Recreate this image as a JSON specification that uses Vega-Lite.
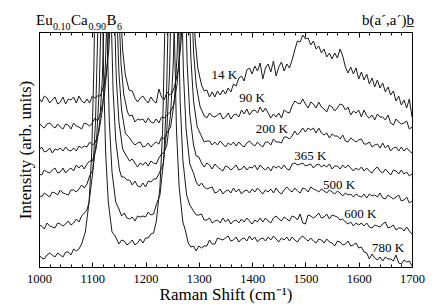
{
"$schema": "https://vega.github.io/schema/vega-lite/v6.json",
"width": 373, "height": 235,
"autosize": "none",
"padding": {"left": 39, "top": 32, "right": 24, "bottom": 41},
"background": "white",
"config": {"font": "Liberation Serif", "view": {"stroke": "black", "strokeWidth": 1},
"axis": {"labelFont": "Liberation Serif", "titleFont": "Liberation Serif"},
"text": {"font": "Liberation Serif"}},
"datasets": {
"spectra": [
{"T":14,"x":1000,"y":169},{"T":14,"x":1005,"y":165},{"T":14,"x":1010,"y":171},{"T":14,"x":1015,"y":169},{"T":14,"x":1020,"y":164},{"T":14,"x":1025,"y":167},{"T":14,"x":1030,"y":170},{"T":14,"x":1035,"y":163},{"T":14,"x":1040,"y":165},{"T":14,"x":1045,"y":170},{"T":14,"x":1050,"y":163},{"T":14,"x":1055,"y":168},{"T":14,"x":1060,"y":167},{"T":14,"x":1065,"y":170},{"T":14,"x":1070,"y":164},{"T":14,"x":1075,"y":171},{"T":14,"x":1080,"y":166},{"T":14,"x":1085,"y":164},{"T":14,"x":1090,"y":168},{"T":14,"x":1095,"y":164},{"T":14,"x":1100,"y":171},{"T":14,"x":1105,"y":169},{"T":14,"x":1110,"y":171},{"T":14,"x":1115,"y":171},
{"T":14,"x":1119,"y":177},{"T":14,"x":1126,"y":192},{"T":14,"x":1131,"y":217},{"T":14,"x":1135,"y":259},{"T":14,"x":1138,"y":315},{"T":14,"x":1141,"y":397},{"T":14,"x":1144,"y":700},{"T":14,"x":1147,"y":397},{"T":14,"x":1150,"y":315},{"T":14,"x":1153,"y":259},{"T":14,"x":1157,"y":217},{"T":14,"x":1162,"y":192},{"T":14,"x":1169,"y":177},
{"T":14,"x":1175,"y":176},{"T":14,"x":1180,"y":169},{"T":14,"x":1185,"y":165},{"T":14,"x":1190,"y":169},{"T":14,"x":1195,"y":171},{"T":14,"x":1200,"y":167},{"T":14,"x":1205,"y":164},{"T":14,"x":1210,"y":170},{"T":14,"x":1215,"y":166},{"T":14,"x":1220,"y":164},{"T":14,"x":1225,"y":178},{"T":14,"x":1230,"y":170},{"T":14,"x":1235,"y":167},{"T":14,"x":1240,"y":175},{"T":14,"x":1245,"y":172},{"T":14,"x":1250,"y":174},
{"T":14,"x":1255,"y":182},{"T":14,"x":1262,"y":199},{"T":14,"x":1267,"y":228},{"T":14,"x":1271,"y":276},{"T":14,"x":1274,"y":340},{"T":14,"x":1277,"y":435},{"T":14,"x":1280,"y":700},{"T":14,"x":1283,"y":435},{"T":14,"x":1286,"y":340},{"T":14,"x":1289,"y":276},{"T":14,"x":1293,"y":228},{"T":14,"x":1298,"y":199},{"T":14,"x":1305,"y":182},
{"T":14,"x":1310,"y":176},{"T":14,"x":1315,"y":177},{"T":14,"x":1320,"y":170},{"T":14,"x":1325,"y":175},{"T":14,"x":1330,"y":170},{"T":14,"x":1335,"y":176},{"T":14,"x":1340,"y":172},{"T":14,"x":1345,"y":177},{"T":14,"x":1350,"y":173},{"T":14,"x":1355,"y":179},{"T":14,"x":1360,"y":175},{"T":14,"x":1365,"y":183},{"T":14,"x":1370,"y":181},{"T":14,"x":1375,"y":189},{"T":14,"x":1380,"y":191},{"T":14,"x":1385,"y":186},{"T":14,"x":1390,"y":197},{"T":14,"x":1395,"y":199},{"T":14,"x":1400,"y":193},{"T":14,"x":1405,"y":201},{"T":14,"x":1410,"y":196},{"T":14,"x":1415,"y":204},{"T":14,"x":1420,"y":188},{"T":14,"x":1425,"y":199},{"T":14,"x":1430,"y":203},{"T":14,"x":1435,"y":195},{"T":14,"x":1440,"y":206},{"T":14,"x":1445,"y":191},{"T":14,"x":1450,"y":200},{"T":14,"x":1455,"y":205},{"T":14,"x":1460,"y":196},{"T":14,"x":1465,"y":203},{"T":14,"x":1470,"y":199},{"T":14,"x":1475,"y":207},{"T":14,"x":1480,"y":217},{"T":14,"x":1485,"y":226},{"T":14,"x":1490,"y":225},{"T":14,"x":1495,"y":232},{"T":14,"x":1500,"y":228},{"T":14,"x":1505,"y":229},{"T":14,"x":1510,"y":222},{"T":14,"x":1515,"y":226},{"T":14,"x":1520,"y":218},{"T":14,"x":1525,"y":221},{"T":14,"x":1530,"y":214},{"T":14,"x":1535,"y":218},{"T":14,"x":1540,"y":210},{"T":14,"x":1545,"y":214},{"T":14,"x":1550,"y":208},{"T":14,"x":1555,"y":214},{"T":14,"x":1560,"y":209},{"T":14,"x":1565,"y":218},{"T":14,"x":1570,"y":211},{"T":14,"x":1575,"y":200},{"T":14,"x":1580,"y":194},{"T":14,"x":1585,"y":200},{"T":14,"x":1590,"y":193},{"T":14,"x":1595,"y":199},{"T":14,"x":1600,"y":188},{"T":14,"x":1605,"y":195},{"T":14,"x":1610,"y":187},{"T":14,"x":1615,"y":193},{"T":14,"x":1620,"y":183},{"T":14,"x":1625,"y":189},{"T":14,"x":1630,"y":180},{"T":14,"x":1635,"y":187},{"T":14,"x":1640,"y":179},{"T":14,"x":1645,"y":184},{"T":14,"x":1650,"y":175},{"T":14,"x":1655,"y":180},{"T":14,"x":1660,"y":172},{"T":14,"x":1665,"y":176},{"T":14,"x":1670,"y":166},{"T":14,"x":1675,"y":171},{"T":14,"x":1680,"y":162},{"T":14,"x":1685,"y":167},{"T":14,"x":1690,"y":159},{"T":14,"x":1695,"y":168},{"T":14,"x":1700,"y":150},
{"T":90,"x":1000,"y":144},{"T":90,"x":1005,"y":141},{"T":90,"x":1010,"y":139},{"T":90,"x":1015,"y":143},{"T":90,"x":1020,"y":144},{"T":90,"x":1025,"y":141},{"T":90,"x":1030,"y":139},{"T":90,"x":1035,"y":143},{"T":90,"x":1040,"y":140},{"T":90,"x":1045,"y":138},{"T":90,"x":1050,"y":143},{"T":90,"x":1055,"y":142},{"T":90,"x":1060,"y":138},{"T":90,"x":1065,"y":144},{"T":90,"x":1070,"y":141},{"T":90,"x":1075,"y":140},{"T":90,"x":1080,"y":138},{"T":90,"x":1085,"y":144},{"T":90,"x":1090,"y":143},{"T":90,"x":1095,"y":141},{"T":90,"x":1100,"y":144},{"T":90,"x":1105,"y":149},{"T":90,"x":1110,"y":146},
{"T":90,"x":1116,"y":155},{"T":90,"x":1123,"y":173},{"T":90,"x":1128,"y":203},{"T":90,"x":1132,"y":254},{"T":90,"x":1135,"y":320},{"T":90,"x":1138,"y":419},{"T":90,"x":1141,"y":700},{"T":90,"x":1144,"y":419},{"T":90,"x":1147,"y":320},{"T":90,"x":1150,"y":254},{"T":90,"x":1154,"y":203},{"T":90,"x":1159,"y":173},{"T":90,"x":1166,"y":155},
{"T":90,"x":1170,"y":151},{"T":90,"x":1175,"y":152},{"T":90,"x":1180,"y":145},{"T":90,"x":1185,"y":148},{"T":90,"x":1190,"y":147},{"T":90,"x":1195,"y":148},{"T":90,"x":1200,"y":144},{"T":90,"x":1205,"y":149},{"T":90,"x":1210,"y":145},{"T":90,"x":1215,"y":144},{"T":90,"x":1220,"y":148},{"T":90,"x":1225,"y":144},{"T":90,"x":1230,"y":150},{"T":90,"x":1235,"y":149},{"T":90,"x":1240,"y":152},{"T":90,"x":1245,"y":154},
{"T":90,"x":1252,"y":161},{"T":90,"x":1259,"y":182},{"T":90,"x":1264,"y":216},{"T":90,"x":1268,"y":275},{"T":90,"x":1271,"y":351},{"T":90,"x":1274,"y":464},{"T":90,"x":1277,"y":700},{"T":90,"x":1280,"y":464},{"T":90,"x":1283,"y":351},{"T":90,"x":1286,"y":275},{"T":90,"x":1290,"y":216},{"T":90,"x":1295,"y":182},{"T":90,"x":1302,"y":161},
{"T":90,"x":1310,"y":151},{"T":90,"x":1315,"y":149},{"T":90,"x":1320,"y":154},{"T":90,"x":1325,"y":151},{"T":90,"x":1330,"y":150},{"T":90,"x":1335,"y":152},{"T":90,"x":1340,"y":154},{"T":90,"x":1345,"y":148},{"T":90,"x":1350,"y":150},{"T":90,"x":1355,"y":154},{"T":90,"x":1360,"y":148},{"T":90,"x":1365,"y":152},{"T":90,"x":1370,"y":153},{"T":90,"x":1375,"y":150},{"T":90,"x":1380,"y":157},{"T":90,"x":1385,"y":153},{"T":90,"x":1390,"y":158},{"T":90,"x":1395,"y":152},{"T":90,"x":1400,"y":156},{"T":90,"x":1405,"y":157},{"T":90,"x":1410,"y":154},{"T":90,"x":1415,"y":160},{"T":90,"x":1420,"y":155},{"T":90,"x":1425,"y":159},{"T":90,"x":1430,"y":154},{"T":90,"x":1435,"y":149},{"T":90,"x":1440,"y":153},{"T":90,"x":1445,"y":150},{"T":90,"x":1450,"y":154},{"T":90,"x":1455,"y":149},{"T":90,"x":1460,"y":157},{"T":90,"x":1465,"y":155},{"T":90,"x":1470,"y":154},{"T":90,"x":1475,"y":161},{"T":90,"x":1480,"y":166},{"T":90,"x":1485,"y":164},{"T":90,"x":1490,"y":163},{"T":90,"x":1495,"y":168},{"T":90,"x":1500,"y":163},{"T":90,"x":1505,"y":159},{"T":90,"x":1510,"y":165},{"T":90,"x":1515,"y":163},{"T":90,"x":1520,"y":159},{"T":90,"x":1525,"y":165},{"T":90,"x":1530,"y":160},{"T":90,"x":1535,"y":158},{"T":90,"x":1540,"y":155},{"T":90,"x":1545,"y":162},{"T":90,"x":1550,"y":160},{"T":90,"x":1555,"y":156},{"T":90,"x":1560,"y":159},{"T":90,"x":1565,"y":163},{"T":90,"x":1570,"y":162},{"T":90,"x":1575,"y":157},{"T":90,"x":1580,"y":160},{"T":90,"x":1585,"y":152},{"T":90,"x":1590,"y":156},{"T":90,"x":1595,"y":154},{"T":90,"x":1600,"y":157},{"T":90,"x":1605,"y":150},{"T":90,"x":1610,"y":157},{"T":90,"x":1615,"y":151},{"T":90,"x":1620,"y":149},{"T":90,"x":1625,"y":152},{"T":90,"x":1630,"y":147},{"T":90,"x":1635,"y":153},{"T":90,"x":1640,"y":150},{"T":90,"x":1645,"y":150},{"T":90,"x":1650,"y":147},{"T":90,"x":1655,"y":152},{"T":90,"x":1660,"y":144},{"T":90,"x":1665,"y":142},{"T":90,"x":1670,"y":148},{"T":90,"x":1675,"y":145},{"T":90,"x":1680,"y":143},{"T":90,"x":1685,"y":144},{"T":90,"x":1690,"y":146},{"T":90,"x":1695,"y":138},{"T":90,"x":1700,"y":140},
{"T":200,"x":1000,"y":117},{"T":200,"x":1005,"y":120},{"T":200,"x":1010,"y":115},{"T":200,"x":1015,"y":116},{"T":200,"x":1020,"y":119},{"T":200,"x":1025,"y":114},{"T":200,"x":1030,"y":118},{"T":200,"x":1035,"y":117},{"T":200,"x":1040,"y":119},{"T":200,"x":1045,"y":116},{"T":200,"x":1050,"y":120},{"T":200,"x":1055,"y":117},{"T":200,"x":1060,"y":116},{"T":200,"x":1065,"y":119},{"T":200,"x":1070,"y":116},{"T":200,"x":1075,"y":121},{"T":200,"x":1080,"y":119},{"T":200,"x":1085,"y":121},{"T":200,"x":1090,"y":120},{"T":200,"x":1095,"y":125},{"T":200,"x":1100,"y":122},{"T":200,"x":1105,"y":124},
{"T":200,"x":1112,"y":134},{"T":200,"x":1119,"y":157},{"T":200,"x":1124,"y":194},{"T":200,"x":1128,"y":258},{"T":200,"x":1131,"y":340},{"T":200,"x":1134,"y":464},{"T":200,"x":1137,"y":700},{"T":200,"x":1140,"y":464},{"T":200,"x":1143,"y":340},{"T":200,"x":1146,"y":258},{"T":200,"x":1150,"y":194},{"T":200,"x":1155,"y":157},{"T":200,"x":1162,"y":134},
{"T":200,"x":1170,"y":129},{"T":200,"x":1175,"y":125},{"T":200,"x":1180,"y":122},{"T":200,"x":1185,"y":124},{"T":200,"x":1190,"y":125},{"T":200,"x":1195,"y":120},{"T":200,"x":1200,"y":121},{"T":200,"x":1205,"y":124},{"T":200,"x":1210,"y":120},{"T":200,"x":1215,"y":123},{"T":200,"x":1220,"y":125},{"T":200,"x":1225,"y":123},{"T":200,"x":1230,"y":130},{"T":200,"x":1235,"y":128},{"T":200,"x":1240,"y":134},
{"T":200,"x":1247,"y":140},{"T":200,"x":1254,"y":166},{"T":200,"x":1259,"y":209},{"T":200,"x":1263,"y":282},{"T":200,"x":1266,"y":377},{"T":200,"x":1269,"y":519},{"T":200,"x":1272,"y":700},{"T":200,"x":1275,"y":519},{"T":200,"x":1278,"y":377},{"T":200,"x":1281,"y":282},{"T":200,"x":1285,"y":209},{"T":200,"x":1290,"y":166},{"T":200,"x":1297,"y":140},
{"T":200,"x":1303,"y":133},{"T":200,"x":1310,"y":125},{"T":200,"x":1315,"y":126},{"T":200,"x":1320,"y":126},{"T":200,"x":1325,"y":122},{"T":200,"x":1330,"y":125},{"T":200,"x":1335,"y":122},{"T":200,"x":1340,"y":126},{"T":200,"x":1345,"y":123},{"T":200,"x":1350,"y":120},{"T":200,"x":1355,"y":124},{"T":200,"x":1360,"y":122},{"T":200,"x":1365,"y":125},{"T":200,"x":1370,"y":121},{"T":200,"x":1375,"y":125},{"T":200,"x":1380,"y":122},{"T":200,"x":1385,"y":120},{"T":200,"x":1390,"y":124},{"T":200,"x":1395,"y":126},{"T":200,"x":1400,"y":123},{"T":200,"x":1405,"y":121},{"T":200,"x":1410,"y":125},{"T":200,"x":1415,"y":122},{"T":200,"x":1420,"y":120},{"T":200,"x":1425,"y":125},{"T":200,"x":1430,"y":125},{"T":200,"x":1435,"y":122},{"T":200,"x":1440,"y":128},{"T":200,"x":1445,"y":125},{"T":200,"x":1450,"y":125},{"T":200,"x":1455,"y":124},{"T":200,"x":1460,"y":130},{"T":200,"x":1465,"y":130},{"T":200,"x":1470,"y":128},{"T":200,"x":1475,"y":131},{"T":200,"x":1480,"y":136},{"T":200,"x":1485,"y":132},{"T":200,"x":1490,"y":135},{"T":200,"x":1495,"y":139},{"T":200,"x":1500,"y":135},{"T":200,"x":1505,"y":139},{"T":200,"x":1510,"y":137},{"T":200,"x":1515,"y":139},{"T":200,"x":1520,"y":134},{"T":200,"x":1525,"y":139},{"T":200,"x":1530,"y":134},{"T":200,"x":1535,"y":132},{"T":200,"x":1540,"y":134},{"T":200,"x":1545,"y":129},{"T":200,"x":1550,"y":133},{"T":200,"x":1555,"y":131},{"T":200,"x":1560,"y":131},{"T":200,"x":1565,"y":128},{"T":200,"x":1570,"y":132},{"T":200,"x":1575,"y":126},{"T":200,"x":1580,"y":125},{"T":200,"x":1585,"y":129},{"T":200,"x":1590,"y":127},{"T":200,"x":1595,"y":125},{"T":200,"x":1600,"y":127},{"T":200,"x":1605,"y":128},{"T":200,"x":1610,"y":123},{"T":200,"x":1615,"y":123},{"T":200,"x":1620,"y":125},{"T":200,"x":1625,"y":120},{"T":200,"x":1630,"y":122},{"T":200,"x":1635,"y":123},{"T":200,"x":1640,"y":119},{"T":200,"x":1645,"y":124},{"T":200,"x":1650,"y":119},{"T":200,"x":1655,"y":122},{"T":200,"x":1660,"y":116},{"T":200,"x":1665,"y":119},{"T":200,"x":1670,"y":120},{"T":200,"x":1675,"y":116},{"T":200,"x":1680,"y":120},{"T":200,"x":1685,"y":116},{"T":200,"x":1690,"y":119},{"T":200,"x":1695,"y":116},{"T":200,"x":1700,"y":114},
{"T":365,"x":1000,"y":93},{"T":365,"x":1005,"y":92},{"T":365,"x":1010,"y":97},{"T":365,"x":1015,"y":95},{"T":365,"x":1020,"y":94},{"T":365,"x":1025,"y":97},{"T":365,"x":1030,"y":99},{"T":365,"x":1035,"y":94},{"T":365,"x":1040,"y":95},{"T":365,"x":1045,"y":99},{"T":365,"x":1050,"y":94},{"T":365,"x":1055,"y":97},{"T":365,"x":1060,"y":99},{"T":365,"x":1065,"y":96},{"T":365,"x":1070,"y":102},{"T":365,"x":1075,"y":99},{"T":365,"x":1080,"y":102},{"T":365,"x":1085,"y":98},{"T":365,"x":1090,"y":103},{"T":365,"x":1095,"y":106},{"T":365,"x":1100,"y":106},
{"T":365,"x":1107,"y":118},{"T":365,"x":1114,"y":145},{"T":365,"x":1119,"y":190},{"T":365,"x":1123,"y":267},{"T":365,"x":1126,"y":366},{"T":365,"x":1129,"y":514},{"T":365,"x":1132,"y":700},{"T":365,"x":1135,"y":514},{"T":365,"x":1138,"y":366},{"T":365,"x":1141,"y":267},{"T":365,"x":1145,"y":190},{"T":365,"x":1150,"y":145},{"T":365,"x":1157,"y":118},
{"T":365,"x":1163,"y":112},{"T":365,"x":1170,"y":106},{"T":365,"x":1175,"y":108},{"T":365,"x":1180,"y":104},{"T":365,"x":1185,"y":100},{"T":365,"x":1190,"y":104},{"T":365,"x":1195,"y":102},{"T":365,"x":1200,"y":105},{"T":365,"x":1205,"y":101},{"T":365,"x":1210,"y":106},{"T":365,"x":1215,"y":104},{"T":365,"x":1220,"y":103},{"T":365,"x":1225,"y":109},{"T":365,"x":1230,"y":113},{"T":365,"x":1235,"y":115},
{"T":365,"x":1240,"y":122},{"T":365,"x":1247,"y":153},{"T":365,"x":1252,"y":204},{"T":365,"x":1256,"y":292},{"T":365,"x":1259,"y":406},{"T":365,"x":1262,"y":577},{"T":365,"x":1265,"y":700},{"T":365,"x":1268,"y":577},{"T":365,"x":1271,"y":406},{"T":365,"x":1274,"y":292},{"T":365,"x":1278,"y":204},{"T":365,"x":1283,"y":153},{"T":365,"x":1290,"y":122},
{"T":365,"x":1295,"y":111},{"T":365,"x":1300,"y":110},{"T":365,"x":1305,"y":104},{"T":365,"x":1310,"y":100},{"T":365,"x":1315,"y":104},{"T":365,"x":1320,"y":102},{"T":365,"x":1325,"y":98},{"T":365,"x":1330,"y":103},{"T":365,"x":1335,"y":100},{"T":365,"x":1340,"y":98},{"T":365,"x":1345,"y":96},{"T":365,"x":1350,"y":101},{"T":365,"x":1355,"y":100},{"T":365,"x":1360,"y":97},{"T":365,"x":1365,"y":99},{"T":365,"x":1370,"y":102},{"T":365,"x":1375,"y":97},{"T":365,"x":1380,"y":98},{"T":365,"x":1385,"y":101},{"T":365,"x":1390,"y":97},{"T":365,"x":1395,"y":100},{"T":365,"x":1400,"y":99},{"T":365,"x":1405,"y":102},{"T":365,"x":1410,"y":97},{"T":365,"x":1415,"y":102},{"T":365,"x":1420,"y":99},{"T":365,"x":1425,"y":97},{"T":365,"x":1430,"y":100},{"T":365,"x":1435,"y":96},{"T":365,"x":1440,"y":101},{"T":365,"x":1445,"y":99},{"T":365,"x":1450,"y":101},{"T":365,"x":1455,"y":98},{"T":365,"x":1460,"y":102},{"T":365,"x":1465,"y":98},{"T":365,"x":1470,"y":97},{"T":365,"x":1475,"y":103},{"T":365,"x":1480,"y":104},{"T":365,"x":1485,"y":102},{"T":365,"x":1490,"y":103},{"T":365,"x":1495,"y":104},{"T":365,"x":1500,"y":101},{"T":365,"x":1505,"y":102},{"T":365,"x":1510,"y":103},{"T":365,"x":1515,"y":99},{"T":365,"x":1520,"y":102},{"T":365,"x":1525,"y":103},{"T":365,"x":1530,"y":100},{"T":365,"x":1535,"y":102},{"T":365,"x":1540,"y":100},{"T":365,"x":1545,"y":103},{"T":365,"x":1550,"y":98},{"T":365,"x":1555,"y":101},{"T":365,"x":1560,"y":101},{"T":365,"x":1565,"y":98},{"T":365,"x":1570,"y":102},{"T":365,"x":1575,"y":99},{"T":365,"x":1580,"y":102},{"T":365,"x":1585,"y":99},{"T":365,"x":1590,"y":96},{"T":365,"x":1595,"y":99},{"T":365,"x":1600,"y":97},{"T":365,"x":1605,"y":100},{"T":365,"x":1610,"y":96},{"T":365,"x":1615,"y":99},{"T":365,"x":1620,"y":96},{"T":365,"x":1625,"y":94},{"T":365,"x":1630,"y":98},{"T":365,"x":1635,"y":100},{"T":365,"x":1640,"y":96},{"T":365,"x":1645,"y":94},{"T":365,"x":1650,"y":98},{"T":365,"x":1655,"y":95},{"T":365,"x":1660,"y":92},{"T":365,"x":1665,"y":97},{"T":365,"x":1670,"y":96},{"T":365,"x":1675,"y":93},{"T":365,"x":1680,"y":97},{"T":365,"x":1685,"y":93},{"T":365,"x":1690,"y":95},{"T":365,"x":1695,"y":91},{"T":365,"x":1700,"y":93},
{"T":500,"x":1000,"y":72},{"T":500,"x":1005,"y":70},{"T":500,"x":1010,"y":74},{"T":500,"x":1015,"y":72},{"T":500,"x":1020,"y":70},{"T":500,"x":1025,"y":75},{"T":500,"x":1030,"y":74},{"T":500,"x":1035,"y":72},{"T":500,"x":1040,"y":77},{"T":500,"x":1045,"y":74},{"T":500,"x":1050,"y":73},{"T":500,"x":1055,"y":72},{"T":500,"x":1060,"y":77},{"T":500,"x":1065,"y":77},{"T":500,"x":1070,"y":75},{"T":500,"x":1075,"y":78},{"T":500,"x":1080,"y":82},{"T":500,"x":1085,"y":79},{"T":500,"x":1090,"y":83},{"T":500,"x":1095,"y":91},
{"T":500,"x":1101,"y":97},{"T":500,"x":1108,"y":127},{"T":500,"x":1113,"y":177},{"T":500,"x":1117,"y":262},{"T":500,"x":1120,"y":372},{"T":500,"x":1123,"y":537},{"T":500,"x":1126,"y":700},{"T":500,"x":1129,"y":537},{"T":500,"x":1132,"y":372},{"T":500,"x":1135,"y":262},{"T":500,"x":1139,"y":177},{"T":500,"x":1144,"y":127},{"T":500,"x":1151,"y":97},
{"T":500,"x":1155,"y":90},{"T":500,"x":1160,"y":90},{"T":500,"x":1165,"y":87},{"T":500,"x":1170,"y":87},{"T":500,"x":1175,"y":82},{"T":500,"x":1180,"y":86},{"T":500,"x":1185,"y":81},{"T":500,"x":1190,"y":80},{"T":500,"x":1195,"y":84},{"T":500,"x":1200,"y":80},{"T":500,"x":1205,"y":86},{"T":500,"x":1210,"y":85},{"T":500,"x":1215,"y":88},{"T":500,"x":1220,"y":88},{"T":500,"x":1225,"y":93},
{"T":500,"x":1233,"y":103},{"T":500,"x":1240,"y":138},{"T":500,"x":1245,"y":195},{"T":500,"x":1249,"y":293},{"T":500,"x":1252,"y":419},{"T":500,"x":1255,"y":609},{"T":500,"x":1258,"y":700},{"T":500,"x":1261,"y":609},{"T":500,"x":1264,"y":419},{"T":500,"x":1267,"y":293},{"T":500,"x":1271,"y":195},{"T":500,"x":1276,"y":138},{"T":500,"x":1283,"y":103},
{"T":500,"x":1290,"y":94},{"T":500,"x":1295,"y":85},{"T":500,"x":1300,"y":81},{"T":500,"x":1305,"y":84},{"T":500,"x":1310,"y":80},{"T":500,"x":1315,"y":78},{"T":500,"x":1320,"y":79},{"T":500,"x":1325,"y":80},{"T":500,"x":1330,"y":74},{"T":500,"x":1335,"y":75},{"T":500,"x":1340,"y":78},{"T":500,"x":1345,"y":73},{"T":500,"x":1350,"y":76},{"T":500,"x":1355,"y":77},{"T":500,"x":1360,"y":74},{"T":500,"x":1365,"y":79},{"T":500,"x":1370,"y":75},{"T":500,"x":1375,"y":78},{"T":500,"x":1380,"y":73},{"T":500,"x":1385,"y":76},{"T":500,"x":1390,"y":77},{"T":500,"x":1395,"y":74},{"T":500,"x":1400,"y":78},{"T":500,"x":1405,"y":75},{"T":500,"x":1410,"y":79},{"T":500,"x":1415,"y":76},{"T":500,"x":1420,"y":73},{"T":500,"x":1425,"y":77},{"T":500,"x":1430,"y":75},{"T":500,"x":1435,"y":78},{"T":500,"x":1440,"y":74},{"T":500,"x":1445,"y":79},{"T":500,"x":1450,"y":75},{"T":500,"x":1455,"y":73},{"T":500,"x":1460,"y":77},{"T":500,"x":1465,"y":80},{"T":500,"x":1470,"y":77},{"T":500,"x":1475,"y":75},{"T":500,"x":1480,"y":79},{"T":500,"x":1485,"y":76},{"T":500,"x":1490,"y":74},{"T":500,"x":1495,"y":79},{"T":500,"x":1500,"y":78},{"T":500,"x":1505,"y":75},{"T":500,"x":1510,"y":80},{"T":500,"x":1515,"y":78},{"T":500,"x":1520,"y":77},{"T":500,"x":1525,"y":75},{"T":500,"x":1530,"y":78},{"T":500,"x":1535,"y":76},{"T":500,"x":1540,"y":74},{"T":500,"x":1545,"y":77},{"T":500,"x":1550,"y":75},{"T":500,"x":1555,"y":73},{"T":500,"x":1560,"y":76},{"T":500,"x":1565,"y":74},{"T":500,"x":1570,"y":71},{"T":500,"x":1575,"y":74},{"T":500,"x":1580,"y":72},{"T":500,"x":1585,"y":73},{"T":500,"x":1590,"y":70},{"T":500,"x":1595,"y":73},{"T":500,"x":1600,"y":71},{"T":500,"x":1605,"y":70},{"T":500,"x":1610,"y":73},{"T":500,"x":1615,"y":69},{"T":500,"x":1620,"y":73},{"T":500,"x":1625,"y":71},{"T":500,"x":1630,"y":72},{"T":500,"x":1635,"y":70},{"T":500,"x":1640,"y":74},{"T":500,"x":1645,"y":69},{"T":500,"x":1650,"y":68},{"T":500,"x":1655,"y":72},{"T":500,"x":1660,"y":70},{"T":500,"x":1665,"y":68},{"T":500,"x":1670,"y":70},{"T":500,"x":1675,"y":72},{"T":500,"x":1680,"y":66},{"T":500,"x":1685,"y":67},{"T":500,"x":1690,"y":70},{"T":500,"x":1695,"y":64},{"T":500,"x":1700,"y":66},
{"T":600,"x":1000,"y":42},{"T":600,"x":1005,"y":41},{"T":600,"x":1010,"y":38},{"T":600,"x":1015,"y":44},{"T":600,"x":1020,"y":41},{"T":600,"x":1025,"y":40},{"T":600,"x":1030,"y":39},{"T":600,"x":1035,"y":44},{"T":600,"x":1040,"y":43},{"T":600,"x":1045,"y":41},{"T":600,"x":1050,"y":43},{"T":600,"x":1055,"y":46},{"T":600,"x":1060,"y":42},{"T":600,"x":1065,"y":44},{"T":600,"x":1070,"y":48},{"T":600,"x":1075,"y":45},{"T":600,"x":1080,"y":51},{"T":600,"x":1085,"y":54},{"T":600,"x":1090,"y":57},
{"T":600,"x":1094,"y":65},{"T":600,"x":1101,"y":95},{"T":600,"x":1106,"y":145},{"T":600,"x":1110,"y":230},{"T":600,"x":1113,"y":340},{"T":600,"x":1116,"y":505},{"T":600,"x":1119,"y":700},{"T":600,"x":1122,"y":505},{"T":600,"x":1125,"y":340},{"T":600,"x":1128,"y":230},{"T":600,"x":1132,"y":145},{"T":600,"x":1137,"y":95},{"T":600,"x":1144,"y":65},
{"T":600,"x":1150,"y":58},{"T":600,"x":1155,"y":51},{"T":600,"x":1160,"y":54},{"T":600,"x":1165,"y":49},{"T":600,"x":1170,"y":48},{"T":600,"x":1175,"y":50},{"T":600,"x":1180,"y":46},{"T":600,"x":1185,"y":51},{"T":600,"x":1190,"y":50},{"T":600,"x":1195,"y":51},{"T":600,"x":1200,"y":50},{"T":600,"x":1205,"y":55},{"T":600,"x":1210,"y":52},{"T":600,"x":1215,"y":53},{"T":600,"x":1220,"y":62},
{"T":600,"x":1227,"y":72},{"T":600,"x":1234,"y":107},{"T":600,"x":1239,"y":164},{"T":600,"x":1243,"y":262},{"T":600,"x":1246,"y":388},{"T":600,"x":1249,"y":578},{"T":600,"x":1252,"y":700},{"T":600,"x":1255,"y":578},{"T":600,"x":1258,"y":388},{"T":600,"x":1261,"y":262},{"T":600,"x":1265,"y":164},{"T":600,"x":1270,"y":107},{"T":600,"x":1277,"y":72},
{"T":600,"x":1283,"y":62},{"T":600,"x":1290,"y":56},{"T":600,"x":1295,"y":52},{"T":600,"x":1300,"y":52},{"T":600,"x":1305,"y":53},{"T":600,"x":1310,"y":47},{"T":600,"x":1315,"y":47},{"T":600,"x":1320,"y":49},{"T":600,"x":1325,"y":44},{"T":600,"x":1330,"y":46},{"T":600,"x":1335,"y":47},{"T":600,"x":1340,"y":44},{"T":600,"x":1345,"y":49},{"T":600,"x":1350,"y":45},{"T":600,"x":1355,"y":48},{"T":600,"x":1360,"y":43},{"T":600,"x":1365,"y":46},{"T":600,"x":1370,"y":47},{"T":600,"x":1375,"y":44},{"T":600,"x":1380,"y":48},{"T":600,"x":1385,"y":45},{"T":600,"x":1390,"y":49},{"T":600,"x":1395,"y":46},{"T":600,"x":1400,"y":43},{"T":600,"x":1405,"y":47},{"T":600,"x":1410,"y":45},{"T":600,"x":1415,"y":49},{"T":600,"x":1420,"y":45},{"T":600,"x":1425,"y":49},{"T":600,"x":1430,"y":46},{"T":600,"x":1435,"y":44},{"T":600,"x":1440,"y":49},{"T":600,"x":1445,"y":51},{"T":600,"x":1450,"y":48},{"T":600,"x":1455,"y":46},{"T":600,"x":1460,"y":50},{"T":600,"x":1465,"y":48},{"T":600,"x":1470,"y":46},{"T":600,"x":1475,"y":51},{"T":600,"x":1480,"y":50},{"T":600,"x":1485,"y":47},{"T":600,"x":1490,"y":53},{"T":600,"x":1495,"y":44},{"T":600,"x":1500,"y":43},{"T":600,"x":1505,"y":52},{"T":600,"x":1510,"y":51},{"T":600,"x":1515,"y":49},{"T":600,"x":1520,"y":51},{"T":600,"x":1525,"y":54},{"T":600,"x":1530,"y":49},{"T":600,"x":1535,"y":50},{"T":600,"x":1540,"y":53},{"T":600,"x":1545,"y":48},{"T":600,"x":1550,"y":52},{"T":600,"x":1555,"y":51},{"T":600,"x":1560,"y":50},{"T":600,"x":1565,"y":47},{"T":600,"x":1570,"y":48},{"T":600,"x":1575,"y":45},{"T":600,"x":1580,"y":43},{"T":600,"x":1585,"y":45},{"T":600,"x":1590,"y":41},{"T":600,"x":1595,"y":44},{"T":600,"x":1600,"y":42},{"T":600,"x":1605,"y":44},{"T":600,"x":1610,"y":41},{"T":600,"x":1615,"y":44},{"T":600,"x":1620,"y":40},{"T":600,"x":1625,"y":39},{"T":600,"x":1630,"y":42},{"T":600,"x":1635,"y":41},{"T":600,"x":1640,"y":40},{"T":600,"x":1645,"y":43},{"T":600,"x":1650,"y":45},{"T":600,"x":1655,"y":39},{"T":600,"x":1660,"y":40},{"T":600,"x":1665,"y":42},{"T":600,"x":1670,"y":37},{"T":600,"x":1675,"y":39},{"T":600,"x":1680,"y":39},{"T":600,"x":1685,"y":36},{"T":600,"x":1690,"y":40},{"T":600,"x":1695,"y":36},{"T":600,"x":1700,"y":33},
{"T":780,"x":1000,"y":12},{"T":780,"x":1005,"y":9},{"T":780,"x":1010,"y":8},{"T":780,"x":1015,"y":12},{"T":780,"x":1020,"y":14},{"T":780,"x":1025,"y":12},{"T":780,"x":1030,"y":10},{"T":780,"x":1035,"y":14},{"T":780,"x":1040,"y":12},{"T":780,"x":1045,"y":10},{"T":780,"x":1050,"y":15},{"T":780,"x":1055,"y":15},{"T":780,"x":1060,"y":12},{"T":780,"x":1065,"y":18},{"T":780,"x":1070,"y":16},{"T":780,"x":1075,"y":18},{"T":780,"x":1080,"y":23},
{"T":780,"x":1087,"y":35},{"T":780,"x":1094,"y":65},{"T":780,"x":1099,"y":115},{"T":780,"x":1103,"y":200},{"T":780,"x":1106,"y":310},{"T":780,"x":1109,"y":475},{"T":780,"x":1112,"y":700},{"T":780,"x":1115,"y":475},{"T":780,"x":1118,"y":310},{"T":780,"x":1121,"y":200},{"T":780,"x":1125,"y":115},{"T":780,"x":1130,"y":65},{"T":780,"x":1137,"y":35},
{"T":780,"x":1143,"y":31},{"T":780,"x":1150,"y":23},{"T":780,"x":1155,"y":27},{"T":780,"x":1160,"y":26},{"T":780,"x":1165,"y":22},{"T":780,"x":1170,"y":24},{"T":780,"x":1175,"y":27},{"T":780,"x":1180,"y":22},{"T":780,"x":1185,"y":24},{"T":780,"x":1190,"y":28},{"T":780,"x":1195,"y":24},{"T":780,"x":1200,"y":29},{"T":780,"x":1205,"y":29},{"T":780,"x":1210,"y":33},{"T":780,"x":1215,"y":34},
{"T":780,"x":1220,"y":45},{"T":780,"x":1227,"y":80},{"T":780,"x":1232,"y":137},{"T":780,"x":1236,"y":235},{"T":780,"x":1239,"y":361},{"T":780,"x":1242,"y":551},{"T":780,"x":1245,"y":700},{"T":780,"x":1248,"y":551},{"T":780,"x":1251,"y":361},{"T":780,"x":1254,"y":235},{"T":780,"x":1258,"y":137},{"T":780,"x":1263,"y":80},{"T":780,"x":1270,"y":45},
{"T":780,"x":1275,"y":36},{"T":780,"x":1280,"y":24},{"T":780,"x":1285,"y":20},{"T":780,"x":1290,"y":21},{"T":780,"x":1295,"y":16},{"T":780,"x":1300,"y":21},{"T":780,"x":1305,"y":19},{"T":780,"x":1310,"y":21},{"T":780,"x":1315,"y":21},{"T":780,"x":1320,"y":27},{"T":780,"x":1325,"y":23},{"T":780,"x":1330,"y":23},{"T":780,"x":1335,"y":29},{"T":780,"x":1340,"y":28},{"T":780,"x":1345,"y":27},{"T":780,"x":1350,"y":29},{"T":780,"x":1355,"y":31},{"T":780,"x":1360,"y":26},{"T":780,"x":1365,"y":27},{"T":780,"x":1370,"y":30},{"T":780,"x":1375,"y":25},{"T":780,"x":1380,"y":28},{"T":780,"x":1385,"y":29},{"T":780,"x":1390,"y":26},{"T":780,"x":1395,"y":31},{"T":780,"x":1400,"y":27},{"T":780,"x":1405,"y":30},{"T":780,"x":1410,"y":25},{"T":780,"x":1415,"y":28},{"T":780,"x":1420,"y":29},{"T":780,"x":1425,"y":26},{"T":780,"x":1430,"y":30},{"T":780,"x":1435,"y":27},{"T":780,"x":1440,"y":31},{"T":780,"x":1445,"y":28},{"T":780,"x":1450,"y":25},{"T":780,"x":1455,"y":29},{"T":780,"x":1460,"y":27},{"T":780,"x":1465,"y":30},{"T":780,"x":1470,"y":26},{"T":780,"x":1475,"y":30},{"T":780,"x":1480,"y":27},{"T":780,"x":1485,"y":25},{"T":780,"x":1490,"y":29},{"T":780,"x":1495,"y":31},{"T":780,"x":1500,"y":28},{"T":780,"x":1505,"y":26},{"T":780,"x":1510,"y":29},{"T":780,"x":1515,"y":26},{"T":780,"x":1520,"y":24},{"T":780,"x":1525,"y":28},{"T":780,"x":1530,"y":27},{"T":780,"x":1535,"y":24},{"T":780,"x":1540,"y":28},{"T":780,"x":1545,"y":25},{"T":780,"x":1550,"y":24},{"T":780,"x":1555,"y":21},{"T":780,"x":1560,"y":26},{"T":780,"x":1565,"y":25},{"T":780,"x":1570,"y":22},{"T":780,"x":1575,"y":23},{"T":780,"x":1580,"y":26},{"T":780,"x":1585,"y":21},{"T":780,"x":1590,"y":22},{"T":780,"x":1595,"y":24},{"T":780,"x":1600,"y":19},{"T":780,"x":1605,"y":20},{"T":780,"x":1610,"y":15},{"T":780,"x":1615,"y":14},{"T":780,"x":1620,"y":8},{"T":780,"x":1625,"y":13},{"T":780,"x":1630,"y":9},{"T":780,"x":1635,"y":7},{"T":780,"x":1640,"y":10},{"T":780,"x":1645,"y":6},{"T":780,"x":1650,"y":10},{"T":780,"x":1655,"y":8},{"T":780,"x":1660,"y":8},{"T":780,"x":1665,"y":6},{"T":780,"x":1670,"y":12},{"T":780,"x":1675,"y":4},{"T":780,"x":1680,"y":3},{"T":780,"x":1685,"y":7},{"T":780,"x":1690,"y":5},{"T":780,"x":1695,"y":6},{"T":780,"x":1700,"y":1}
],
"labels": [
{"label":"14 K","x":1348,"y":192},{"label":"90 K","x":1400,"y":169},{"label":"200 K","x":1437,"y":138},{"label":"365 K","x":1509,"y":111},{"label":"500 K","x":1563,"y":82},{"label":"600 K","x":1603,"y":53},{"label":"780 K","x":1655,"y":19}
],
"formula": [
{"t":"Eu","x":994.4,"y":242},{"t":"Ca","x":1060.1,"y":242},{"t":"B","x":1126.7,"y":242}
],
"subscripts": [
{"t":"0.10","x":1026.3,"y":237},{"t":"0.90","x":1092.9,"y":237},{"t":"6","x":1146.4,"y":237}
],
"geometry": [
{"t":"b(a´,a´)b̲","x":1703.7,"y":242}
]
},
"resolve": {"axis": {"x": "independent", "y": "independent"}},
"layer": [
{
"data": {"name": "spectra"},
"mark": {"type": "line", "clip": true, "color": "#1a1a1a", "strokeWidth": 1},
"encoding": {
"x": {"field": "x", "type": "quantitative", "scale": {"domain": [1000, 1700], "nice": false, "zero": false},
"axis": {"orient": "bottom", "values": [1000,1020,1040,1060,1080,1100,1120,1140,1160,1180,1200,1220,1240,1260,1280,1300,1320,1340,1360,1380,1400,1420,1440,1460,1480,1500,1520,1540,1560,1580,1600,1620,1640,1660,1680,1700],
"format": "d", "labelExpr": "datum.value % 100 === 0 ? datum.label : ''", "labelOverlap": false, "labelFlush": false,
"tickSize": {"condition": {"test": "datum.value % 100 === 0", "value": -5}, "value": -3},
"tickColor": "black", "domainColor": "black", "labelColor": "black", "labelFont": "Liberation Serif", "labelFontSize": 12.5, "labelPadding": 10.5, "grid": false,
"title": "Raman Shift (cm⁻¹)", "titleFont": "Liberation Serif", "titleFontSize": 17, "titleFontWeight": "normal", "titleColor": "black", "titleBaseline": "alphabetic", "titleY": 32}},
"y": {"field": "y", "type": "quantitative", "scale": {"domain": [0, 235], "nice": false, "zero": false},
"axis": {"title": "Intensity (arb. units)", "ticks": false, "labels": false, "grid": false, "domainColor": "black", "titleFont": "Liberation Serif", "titleFontSize": 17, "titleFontWeight": "normal", "titleColor": "black", "titlePadding": 5}},
"detail": {"field": "T"}
}
},
{
"data": {"name": "labels"},
"mark": {"type": "text", "font": "Liberation Serif", "fontSize": 13, "color": "black", "align": "center", "baseline": "middle"},
"encoding": {
"x": {"field": "x", "type": "quantitative", "scale": {"domain": [1000, 1700], "nice": false, "zero": false},
"axis": {"orient": "top", "values": [1000,1020,1040,1060,1080,1100,1120,1140,1160,1180,1200,1220,1240,1260,1280,1300,1320,1340,1360,1380,1400,1420,1440,1460,1480,1500,1520,1540,1560,1580,1600,1620,1640,1660,1680,1700],
"labels": false, "title": null, "grid": false,
"tickSize": {"condition": {"test": "datum.value % 100 === 0", "value": -5}, "value": -3},
"tickColor": "black", "domainColor": "black"}},
"y": {"field": "y", "type": "quantitative", "scale": {"domain": [0, 235], "nice": false, "zero": false}, "axis": null},
"text": {"field": "label"}
}
},
{
"data": {"name": "formula"},
"mark": {"type": "text", "font": "Liberation Serif", "fontSize": 15, "color": "black", "align": "left", "baseline": "alphabetic"},
"encoding": {
"x": {"field": "x", "type": "quantitative", "scale": {"domain": [1000, 1700], "nice": false, "zero": false}, "axis": null},
"y": {"field": "y", "type": "quantitative", "scale": {"domain": [0, 235], "nice": false, "zero": false}, "axis": null},
"text": {"field": "t"}
}
},
{
"data": {"name": "subscripts"},
"mark": {"type": "text", "font": "Liberation Serif", "fontSize": 10, "color": "black", "align": "left", "baseline": "alphabetic"},
"encoding": {
"x": {"field": "x", "type": "quantitative", "scale": {"domain": [1000, 1700], "nice": false, "zero": false}, "axis": null},
"y": {"field": "y", "type": "quantitative", "scale": {"domain": [0, 235], "nice": false, "zero": false}, "axis": null},
"text": {"field": "t"}
}
},
{
"data": {"name": "geometry"},
"mark": {"type": "text", "font": "Liberation Serif", "fontSize": 15, "color": "black", "align": "right", "baseline": "alphabetic"},
"encoding": {
"x": {"field": "x", "type": "quantitative", "scale": {"domain": [1000, 1700], "nice": false, "zero": false}, "axis": null},
"y": {"field": "y", "type": "quantitative", "scale": {"domain": [0, 235], "nice": false, "zero": false}, "axis": null},
"text": {"field": "t"}
}
}
]
}
